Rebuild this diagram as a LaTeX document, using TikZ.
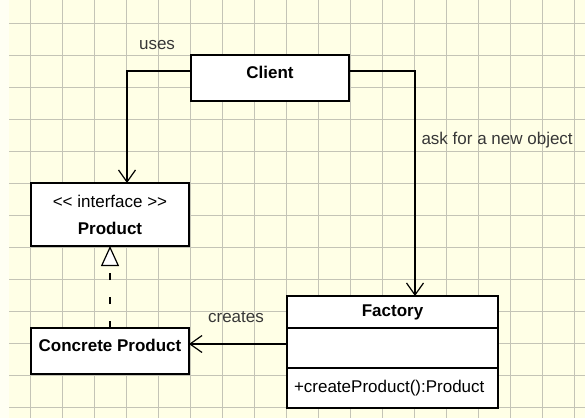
\documentclass[tikz,border=0pt]{standalone}
\usepackage{fontspec}
\setmainfont{Liberation Sans}
\usepackage{tikz}
\usetikzlibrary{arrows.meta,calc,positioning}
\definecolor{paper}{RGB}{255,255,230}
\definecolor{margin}{RGB}{255,255,243}
\definecolor{gridline}{RGB}{196,196,182}
\definecolor{notegray}{RGB}{55,55,55}

\begin{document}
\begin{tikzpicture}[
  x=1pt, y=-1pt,
  font=\fontsize{17}{20}\selectfont,
  cls/.style={draw, line width=1.3pt, fill=white, minimum width=158pt, inner sep=0pt, outer sep=0pt},
  note/.style={text=notegray},
  cell/.style={draw=gridline, line width=1.3pt},
  uses/.style={line width=1.2pt, -{Straight Barb[length=12pt,width=17pt]}},
  realizes/.style={line width=1.2pt, dash pattern=on 7pt off 17pt, -{Triangle[open,fill=white,length=20pt,width=18pt]}}
]
\useasboundingbox (0,0) rectangle (585,418);
\fill[paper] (0,0) rectangle (585,418);
\fill[margin] (0,0) rectangle (9,418);
\foreach \i in {0,...,17}
  \draw[cell] (30.7+32*\i,0) -- (30.7+32*\i,418);
\foreach \j in {0,...,12}
  \draw[cell] (9,23.3+32*\j) -- (585,23.3+32*\j);

\node[cls, minimum height=46pt, text depth=11pt] (client) at (270,78) {\textbf{Client}};
\node[cls, minimum height=63pt, align=center, font=\fontsize{17}{27}\selectfont] (product) at (110,214.5) {<{}< interface >{}>\\\textbf{Product}};
\node[cls, minimum height=46pt, text depth=11pt] (concrete) at (110,351) {\textbf{Concrete Product}};
\node[cls, minimum width=211pt, minimum height=32pt] (factory) at (392.5,312) {\textbf{Factory}};
\node[cls, minimum width=211pt, minimum height=40pt, below=0pt of factory] (fattr) {};
\node[cls, minimum width=211pt, minimum height=40pt, text width=197pt, align=left, below=0pt of fattr] (fops) {+createProduct():Product};

\draw[uses] ($(client.west)+(0,-7)$) -| ($(product.north)+(17,0)$);
\draw[uses] ($(client.east)+(0,-7)$) -| ($(factory.north)+(22.5,0)$);
\coordinate (cr) at ($(fattr.west)+(0,-4)$);
\draw[uses] (cr) -- (cr -| concrete.east);
\draw[realizes] (concrete.north) -- (product.south);

\node[note, anchor=base] (usestxt) at (157,49) {uses};
\node[note, anchor=base west] (asktxt) at (418,144) {ask for a new object};
\node[note, anchor=base] (createstxt) at (236,322) {creates};
\end{tikzpicture}
\end{document}
